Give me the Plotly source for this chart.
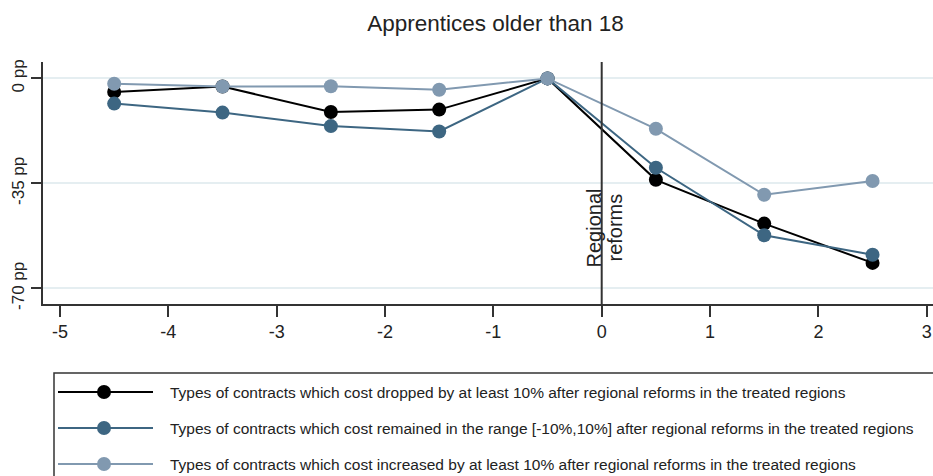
import plotly.graph_objects as go

# Event time relative to the regional reforms (years)
periods = [-4.5, -3.5, -2.5, -1.5, -0.5, 0.5, 1.5, 2.5]

# Change in the share of apprentices older than 18 (percentage points)
cost_dropped = [-4.5, -2.7, -11.2, -10.4, 0.0, -33.8, -48.4, -61.5]
cost_stable = [-8.4, -11.4, -15.9, -17.7, 0.0, -29.8, -52.3, -58.8]
cost_increased = [-1.8, -2.7, -2.6, -3.8, 0.0, -16.8, -38.8, -34.2]

series_names = [
    "Types of contracts which cost dropped by at least 10% after regional reforms in the treated regions",
    "Types of contracts which cost remained in the range [-10%,10%] after regional reforms in the treated regions",
    "Types of contracts which cost increased by at least 10% after regional reforms in the treated regions",
]
series_values = [cost_dropped, cost_stable, cost_increased]
series_colors = ["#000000", "#3d6682", "#8199b0"]

x_ticks = [-5, -4, -3, -2, -1, 0, 1, 2, 3]
x_ticklabels = ["-5", "-4", "-3", "-2", "-1", "0", "1", "2", "3"]
y_ticks = [0, -35, -70]
y_ticklabels = ["0 pp", "-35 pp", "-70 pp"]

title_text = "Apprentices older than 18"
reform_label = ["Regional", "reforms"]

W, H = 933, 476
M_L, M_R, M_T, M_B = 43, 0, 62, 172
PW, PH = W - M_L - M_R, H - M_T - M_B


def px_x(px):
    """Horizontal pixel -> paper coordinate."""
    return (px - M_L) / PW


def px_y(py):
    """Vertical pixel -> paper coordinate."""
    return (H - M_B - py) / PH


FONT = "Liberation Sans, Arial, sans-serif"

fig = go.Figure()
for name, vals, col in zip(series_names, series_values, series_colors):
    fig.add_trace(go.Scatter(
        x=periods, y=vals, name=name, mode="lines+markers",
        line=dict(color=col, width=2),
        marker=dict(color=col, size=14, line=dict(width=0)),
        showlegend=False,
    ))

shapes = []
annotations = []

# Reform date marker
shapes.append(dict(type="line", xref="x", yref="paper", x0=0, x1=0, y0=0, y1=1,
                   line=dict(color="#333333", width=2), layer="above"))
annotations.append(dict(x=0, y=-49.8, xref="x", yref="y", text=reform_label[0],
                        textangle=-90, showarrow=False, xshift=-8,
                        font=dict(family=FONT, size=20, color="#222222")))
annotations.append(dict(x=0, y=-49.8, xref="x", yref="y", text=reform_label[1],
                        textangle=-90, showarrow=False, xshift=13,
                        font=dict(family=FONT, size=20, color="#222222")))

# Legend box with line-and-marker samples
shapes.append(dict(type="rect", xref="paper", yref="paper",
                   x0=px_x(54), x1=px_x(960), y0=px_y(373), y1=px_y(500),
                   line=dict(color="#333333", width=1.5), fillcolor="rgba(0,0,0,0)"))
row_y = [392, 428, 464]
for name, col, ry in zip(series_names, series_colors, row_y):
    shapes.append(dict(type="line", xref="paper", yref="paper",
                       x0=px_x(58), x1=px_x(153), y0=px_y(ry), y1=px_y(ry),
                       line=dict(color=col, width=2)))
    shapes.append(dict(type="circle", xref="paper", yref="paper",
                       xsizemode="pixel", ysizemode="pixel",
                       xanchor=px_x(104), yanchor=px_y(ry),
                       x0=-7, x1=7, y0=-7, y1=7,
                       fillcolor=col, line=dict(width=0)))
    annotations.append(dict(x=px_x(168), y=px_y(ry), xref="paper", yref="paper",
                            text=name, showarrow=False, xanchor="left", yanchor="middle",
                            font=dict(family=FONT, size=15.5, color="#222222")))

fig.update_layout(
    width=W, height=H,
    margin=dict(l=M_L, r=M_R, t=M_T, b=M_B),
    paper_bgcolor="white", plot_bgcolor="white",
    title=dict(text=title_text, x=495.5 / W, xref="container", xanchor="center",
               y=1 - 23 / H, yref="container", yanchor="middle",
               font=dict(family=FONT, size=22.5, color="#222222")),
    xaxis=dict(range=[-5.157, 3.058], tickvals=x_ticks, ticktext=x_ticklabels,
               showgrid=False, zeroline=False, showline=True, linecolor="#333333",
               linewidth=1.5, ticks="outside", ticklen=11, tickwidth=1.5,
               tickcolor="#333333",
               tickfont=dict(family=FONT, size=18, color="#222222")),
    yaxis=dict(range=[-75.2, 5.47], tickvals=y_ticks, ticktext=y_ticklabels,
               tickangle=-90, showgrid=True, gridcolor="#e5eef1", gridwidth=1.5,
               zeroline=False, showline=True, linecolor="#333333", linewidth=1.5,
               ticks="outside", ticklen=10, tickwidth=1.5, tickcolor="#333333",
               tickfont=dict(family=FONT, size=17, color="#222222")),
    shapes=shapes,
    annotations=annotations,
    showlegend=False,
)

fig.write_html("out.html")
